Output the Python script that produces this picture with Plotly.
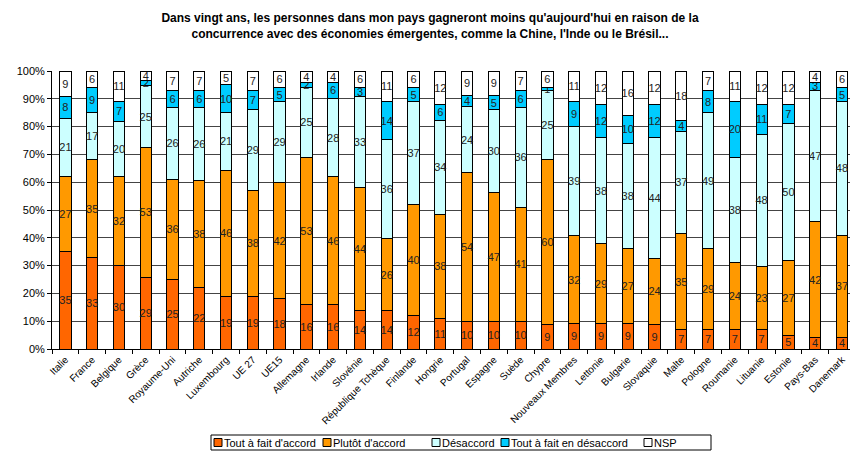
import plotly.graph_objects as go

categories = ["Italie", "France", "Belgique", "Grèce", "Royaume-Uni", "Autriche", "Luxembourg",
              "UE 27", "UE15", "Allemagne", "Irlande", "Slovénie", "République Tchèque", "Finlande",
              "Hongrie", "Portugal", "Espagne", "Suède", "Chypre", "Nouveaux Membres", "Lettonie",
              "Bulgarie", "Slovaquie", "Malte", "Pologne", "Roumanie", "Lituanie", "Estonie",
              "Pays-Bas", "Danemark"]

tout_accord = [35, 33, 30, 29, 25, 22, 19, 19, 18, 16, 16, 14, 14, 12, 11, 10, 10, 10, 9, 9,
               9, 9, 9, 7, 7, 7, 7, 5, 4, 4]
plutot_accord = [27, 35, 32, 53, 36, 38, 46, 38, 42, 53, 46, 44, 26, 40, 38, 54, 47, 41, 60, 32,
                 29, 27, 24, 35, 29, 24, 23, 27, 42, 37]
desaccord = [21, 17, 20, 25, 26, 26, 21, 29, 29, 25, 28, 33, 36, 37, 34, 24, 30, 36, 25, 39,
             38, 38, 44, 37, 49, 38, 48, 50, 47, 48]
tout_desaccord = [8, 9, 7, 2, 6, 6, 10, 7, 5, 2, 6, 3, 14, 5, 6, 4, 5, 6, 1, 9,
                  12, 10, 12, 4, 8, 20, 11, 7, 3, 5]
nsp = [9, 6, 11, 4, 7, 7, 5, 7, 6, 4, 4, 6, 11, 6, 12, 9, 9, 7, 6, 11,
       12, 16, 12, 18, 7, 11, 12, 12, 4, 6]

series_names = ["Tout à fait d'accord", "Plutôt d'accord", "Désaccord",
                "Tout à fait en désaccord", "NSP"]
series_values = [tout_accord, plutot_accord, desaccord, tout_desaccord, nsp]
series_colors = ["#FF6600", "#FF9900", "#CCFFFF", "#00CCFF", "#FFFFFF"]

FONT = "Liberation Sans, Arial, sans-serif"

# figure geometry (pixels, figure coordinates)
W, H = 842, 443
ML, MR, MT, MB = 44, 0, 63, 102
PW, PH = W - ML - MR, H - MT - MB


def px_x(x):
    return (x - ML) / PW


def px_y(y):
    return (H - MB - y) / PH


fig = go.Figure()
for name, vals, color in zip(series_names, series_values, series_colors):
    fig.add_trace(go.Bar(
        x=categories, y=vals, name=name,
        marker=dict(color=color, line=dict(color="#000000", width=1)),
        text=[str(v) for v in vals], textposition="inside", insidetextanchor="middle",
        textangle=0, constraintext="none",
        textfont=dict(family=FONT, size=11, color="#222222"),
    ))

# compact legend drawn like the original (box with small squares)
shapes = []
annotations = []
leg_left, leg_right, leg_top, leg_bot = 203, 703, 427, 442
shapes.append(dict(type="rect", xref="paper", yref="paper",
                   x0=px_x(leg_left), x1=px_x(leg_right), y0=px_y(leg_bot), y1=px_y(leg_top),
                   line=dict(color="#000000", width=1), fillcolor="white", layer="above"))
item_x = [206, 315, 424, 493, 636]
for name, color, x0 in zip(series_names, series_colors, item_x):
    shapes.append(dict(type="rect", xref="paper", yref="paper",
                       x0=px_x(x0), x1=px_x(x0 + 8), y0=px_y(438.5), y1=px_y(430.5),
                       line=dict(color="#000000", width=1), fillcolor=color, layer="above"))
    annotations.append(dict(text=name, xref="paper", yref="paper", x=px_x(x0 + 8), y=px_y(434.5),
                            xanchor="left", yanchor="middle", showarrow=False,
                            font=dict(family=FONT, size=11, color="#000000")))

fig.update_layout(
    barmode="stack", barnorm="percent", bargap=0.58,
    width=W, height=H,
    margin=dict(l=ML, r=MR, t=MT, b=MB),
    paper_bgcolor="white", plot_bgcolor="white",
    font=dict(family=FONT, size=11, color="#000000"),
    title=dict(
        text="<b>Dans vingt ans, les personnes dans mon pays gagneront moins qu'aujourd'hui en raison de la<br>concurrence avec des économies émergentes, comme la Chine, l'Inde ou le Brésil...</b>",
        x=(430 - 8) / W, xanchor="center", y=1 - 14 / H, yanchor="top",
        font=dict(size=12, color="#000000"),
    ),
    uniformtext=dict(minsize=11, mode="show"),
    showlegend=False,
    shapes=shapes,
    annotations=annotations,
)
fig.update_yaxes(
    range=[0, 100], dtick=10, ticksuffix="%", showgrid=True, gridcolor="#444444", gridwidth=1,
    showline=True, linecolor="#000000", ticks="outside", ticklen=4, tickcolor="#000000",
    tickfont=dict(size=11), zeroline=False, automargin=False,
)
fig.update_xaxes(
    range=[-0.5, 29.3],
    tickangle=-45, tickfont=dict(size=10), showline=True, linecolor="#000000",
    ticks="outside", tickson="boundaries", ticklen=4, tickcolor="#000000", automargin=False,
)

fig.write_html("out.html")
